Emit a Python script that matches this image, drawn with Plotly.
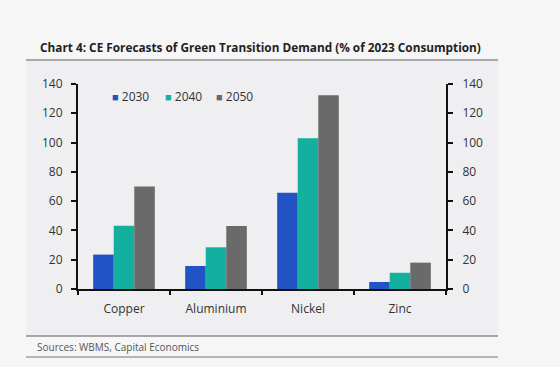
import plotly.graph_objects as go

categories = ["Copper", "Aluminium", "Nickel", "Zinc"]
years = ["2030", "2040", "2050"]
v2030 = [23.5, 15.7, 65.8, 4.8]
v2040 = [43.2, 28.5, 102.9, 11.1]
v2050 = [70.0, 43.0, 132.3, 18.0]
series = [v2030, v2040, v2050]
colors = ["#2153c4", "#14b09f", "#6a6a6a"]
legend_ids = ["legend", "legend2", "legend3"]
legend_x = [72, 125, 176]  # pixel x of each legend box

W, H = 560, 367
L, R, T, B = 78, 446, 84, 289  # plot area pixels


def px(x):
    return (x - L) / (R - L)


def py(y):
    return (B - y) / (B - T)


font = "Open Sans, Noto Sans, sans-serif"
fig = go.Figure()
for name, vals, col in zip(years, series, colors):
    fig.add_trace(go.Bar(x=categories, y=vals, name=name, marker_color=col,
                         marker_line_width=0, showlegend=False))
# legend entries: coloured square drawn as text next to the year
for name, col, lid in zip(years, colors, legend_ids):
    fig.add_trace(go.Scatter(
        x=[None], y=[None], mode="markers",
        marker=dict(color="rgba(0,0,0,0)", size=1, line=dict(width=0)),
        name=f'<span style="color:{col};font-size:11px">■</span>&nbsp;{name}',
        legend=lid, hoverinfo="skip"))
# transparent zero-height trace so the right-hand axis is drawn
fig.add_trace(go.Bar(x=categories, y=[0] * len(categories), yaxis="y2", showlegend=False,
                     hoverinfo="skip", marker_color="rgba(0,0,0,0)", width=0))

legend_common = dict(orientation="h", yanchor="middle", xanchor="left",
                     bgcolor="rgba(0,0,0,0)", font=dict(size=12, color="#333333"),
                     itemwidth=30, borderwidth=0)
legends = {}
for lid, lx in zip(legend_ids, legend_x):
    legends[lid] = dict(legend_common, x=px(lx), y=py(96))

axis_common = dict(showline=True, linecolor="#111111", linewidth=2, ticks="outside",
                   tickcolor="#111111", tickwidth=2, showgrid=False,
                   tickfont=dict(size=12, color="#333333"))

fig.update_layout(
    width=W, height=H,
    margin=dict(l=L, r=W - R, t=T, b=H - B, pad=0),
    paper_bgcolor="#f6f6f7",
    plot_bgcolor="rgba(0,0,0,0)",
    barmode="group", bargap=0.33, bargroupgap=0,
    font=dict(family=font, size=12, color="#333333"),
    showlegend=True,
    **legends,
    xaxis=dict(axis_common, range=[-0.5, 3.5], tickson="boundaries", ticklen=4,
               ticklabelstandoff=8),
    yaxis=dict(axis_common, range=[0, 140], dtick=20, ticklen=5, zeroline=False,
               ticklabelstandoff=6),
    yaxis2=dict(axis_common, range=[0, 140], dtick=20, overlaying="y", side="right",
                ticklen=5, zeroline=False, ticklabelstandoff=7),
)

shapes = [
    dict(type="rect", xref="paper", yref="paper", x0=px(26), x1=px(498), y0=py(336), y1=py(60),
         fillcolor="#efeff2", line_width=0, layer="below"),
    dict(type="line", xref="paper", yref="paper", x0=px(26), x1=px(498), y0=py(60), y1=py(60),
         line=dict(color="#8e8e8e", width=1.5)),
    dict(type="line", xref="paper", yref="paper", x0=px(26), x1=px(498), y0=py(336), y1=py(336),
         line=dict(color="#8e8e8e", width=1.5)),
    dict(type="line", xref="paper", yref="paper", x0=px(26), x1=px(498), y0=py(357), y1=py(357),
         line=dict(color="#b5b5b5", width=2)),
]
fig.update_layout(shapes=shapes)

fig.add_annotation(text="<b>Chart 4: CE Forecasts of Green Transition Demand (% of 2023 Consumption)</b>",
                   xref="paper", yref="paper", x=px(38), y=py(47), xanchor="left", yanchor="middle",
                   showarrow=False, font=dict(family=font, size=11.8, color="#222222"))
fig.add_annotation(text="Sources: WBMS, Capital Economics",
                   xref="paper", yref="paper", x=px(35), y=py(347), xanchor="left", yanchor="middle",
                   showarrow=False, font=dict(family=font, size=10, color="#555555"))

fig.write_html("out.html", config={"displayModeBar": False},
               post_script="document.body.style.margin='0';document.body.style.background='#f6f6f7';")
